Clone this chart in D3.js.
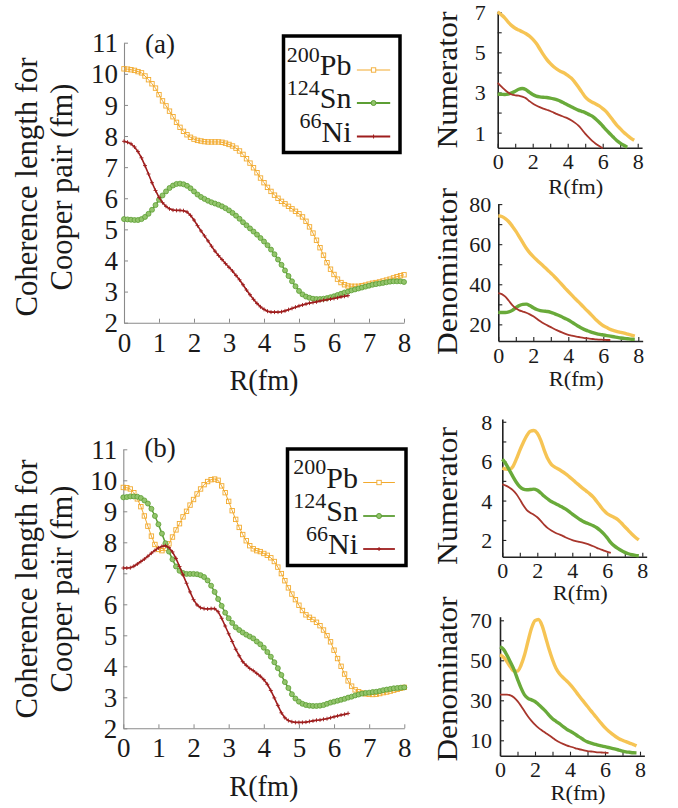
<!DOCTYPE html>
<html><head><meta charset="utf-8">
<script src="https://cdn.jsdelivr.net/npm/d3@7"></script>
<style>body{margin:0;background:#fff}svg{display:block}
text{font-family:"Liberation Serif","Times New Roman",Times,"Nimbus Roman","Nimbus Roman No9 L",serif !important;fill:#1a1a1a}</style>
</head><body>
<script>
// ---------- DATA ----------
const nuclei = ["200Pb", "124Sn", "66Ni"];
const stepMain = 0.1;   // R spacing of main panels (fm)
const stepSmall = 0.2;  // R spacing of side panels (fm)

// (a) coherence length
const pbA = [10.16,10.15,10.13,10.11,10.07,10.03,9.93,9.81,9.68,9.54,9.33,9.13,8.97,8.80,8.62,8.44,8.28,8.15,8.04,7.96,7.90,7.86,7.84,7.82,7.81,7.81,7.81,7.81,7.80,7.77,7.73,7.68,7.61,7.52,7.41,7.27,7.13,6.98,6.82,6.65,6.50,6.35,6.22,6.10,6.00,5.90,5.82,5.74,5.66,5.58,5.50,5.40,5.26,5.08,4.88,4.65,4.41,4.17,3.93,3.72,3.55,3.40,3.29,3.22,3.18,3.17,3.17,3.17,3.19,3.21,3.24,3.27,3.29,3.31,3.34,3.37,3.40,3.44,3.48,3.51,3.54];
const snA = [5.33,5.32,5.31,5.30,5.30,5.33,5.40,5.50,5.63,5.78,5.95,6.09,6.22,6.33,6.41,6.46,6.47,6.45,6.40,6.32,6.22,6.12,6.04,5.98,5.92,5.87,5.83,5.79,5.74,5.68,5.61,5.53,5.44,5.34,5.23,5.13,5.03,4.93,4.83,4.72,4.61,4.49,4.35,4.20,4.03,3.86,3.68,3.50,3.33,3.17,3.02,2.91,2.84,2.80,2.77,2.76,2.76,2.77,2.79,2.82,2.85,2.89,2.93,2.97,3.00,3.04,3.07,3.10,3.13,3.16,3.19,3.22,3.24,3.26,3.28,3.30,3.32,3.33,3.33,3.33,3.31];
const niA = [7.83,7.80,7.75,7.65,7.50,7.30,7.05,6.78,6.50,6.25,6.03,5.86,5.74,5.66,5.62,5.61,5.61,5.60,5.56,5.45,5.30,5.12,4.95,4.79,4.63,4.46,4.30,4.16,4.03,3.90,3.78,3.66,3.52,3.38,3.22,3.05,2.90,2.75,2.62,2.51,2.43,2.37,2.34,2.34,2.34,2.35,2.38,2.42,2.46,2.50,2.54,2.57,2.60,2.63,2.65,2.67,2.70,2.72,2.74,2.76,2.78,2.80,2.83,2.85,2.87];

// (b) coherence length
const pbB = [9.77,9.76,9.72,9.60,9.40,9.15,8.85,8.52,8.20,7.93,7.77,7.73,7.80,7.95,8.17,8.40,8.60,8.82,9.00,9.20,9.38,9.56,9.72,9.86,9.96,10.02,10.04,10.00,9.82,9.60,9.32,9.02,8.74,8.48,8.25,8.05,7.89,7.79,7.73,7.70,7.64,7.58,7.50,7.38,7.20,6.99,6.76,6.53,6.33,6.15,5.97,5.80,5.66,5.58,5.51,5.42,5.31,5.17,4.99,4.79,4.52,4.25,4.00,3.75,3.53,3.36,3.24,3.18,3.14,3.11,3.10,3.09,3.10,3.12,3.15,3.17,3.20,3.23,3.26,3.29,3.32];
const snB = [9.45,9.46,9.48,9.48,9.47,9.43,9.35,9.25,9.08,8.85,8.58,8.28,7.97,7.70,7.45,7.22,7.08,7.01,6.98,6.98,6.98,6.97,6.94,6.88,6.77,6.60,6.40,6.17,5.95,5.73,5.55,5.40,5.26,5.17,5.09,5.02,4.96,4.90,4.80,4.71,4.60,4.46,4.31,4.13,3.94,3.72,3.49,3.30,3.10,2.96,2.86,2.79,2.75,2.73,2.72,2.72,2.73,2.75,2.79,2.83,2.86,2.89,2.92,2.95,2.99,3.02,3.06,3.09,3.12,3.14,3.15,3.17,3.18,3.20,3.23,3.25,3.27,3.29,3.30,3.31,3.32];
const niB = [7.17,7.17,7.18,7.23,7.30,7.38,7.46,7.55,7.65,7.74,7.82,7.87,7.89,7.83,7.69,7.48,7.22,6.95,6.68,6.40,6.15,5.98,5.89,5.86,5.85,5.86,5.86,5.76,5.55,5.30,5.05,4.80,4.55,4.34,4.15,4.03,3.93,3.86,3.77,3.68,3.57,3.42,3.22,2.98,2.74,2.50,2.34,2.25,2.21,2.19,2.19,2.19,2.20,2.22,2.24,2.26,2.27,2.29,2.31,2.34,2.37,2.40,2.43,2.45,2.48];

// side panels (a)
const numA_pb = [7.02,6.88,6.72,6.50,6.33,6.20,6.11,6.03,5.94,5.82,5.66,5.45,5.18,4.90,4.65,4.45,4.28,4.15,4.05,3.97,3.85,3.72,3.52,3.29,3.03,2.78,2.62,2.52,2.43,2.33,2.20,2.05,1.83,1.60,1.38,1.20,1.02,0.87,0.73,0.62];
const numA_sn = [2.92,2.91,2.90,2.92,2.98,3.06,3.16,3.20,3.15,3.02,2.90,2.82,2.78,2.76,2.75,2.72,2.68,2.63,2.56,2.47,2.38,2.29,2.20,2.12,2.06,2.00,1.91,1.82,1.68,1.52,1.33,1.14,0.96,0.78,0.61,0.48,0.37,0.27];
const numA_ni = [3.48,3.30,3.14,3.00,2.90,2.86,2.84,2.79,2.72,2.58,2.45,2.35,2.27,2.20,2.14,2.08,2.00,1.92,1.85,1.78,1.71,1.62,1.50,1.36,1.17,0.95,0.76,0.59,0.45,0.33,0.22];
const denA_pb = [74.2,73.8,72.8,71.2,69.0,66.5,63.7,60.8,58.0,55.7,53.8,52.1,50.5,48.9,47.3,45.6,43.9,42.1,40.2,38.2,36.4,34.6,32.8,31.1,29.3,27.5,25.8,24.0,22.2,20.6,19.3,18.4,17.5,16.9,16.4,16.0,15.6,15.1,14.6,14.1];
const denA_sn = [26.0,25.9,25.9,26.2,27.0,28.3,29.4,30.0,30.1,29.4,28.3,27.4,26.9,26.6,26.4,26.0,25.4,24.7,23.9,23.0,22.2,21.1,20.0,18.9,17.9,17.1,16.5,15.9,15.4,15.0,14.7,14.4,14.1,13.8,13.5,13.2,13.0,12.8,12.6,12.5];
const denA_ni = [35.6,35.1,33.8,31.8,29.6,28.0,27.0,26.4,25.8,25.0,24.0,22.8,21.5,20.4,19.5,18.6,17.7,16.9,16.1,15.4,14.8,14.4,14.0,13.7,13.4,13.1,12.9,12.7,12.5,12.4,12.3,12.2,12.2];

// side panels (b)
const numB_pb = [5.65,5.60,5.58,5.72,6.10,6.55,6.95,7.30,7.52,7.56,7.42,7.06,6.55,6.12,5.84,5.70,5.60,5.49,5.37,5.23,5.08,4.92,4.77,4.62,4.48,4.34,4.17,3.95,3.72,3.50,3.33,3.23,3.14,3.03,2.86,2.67,2.49,2.30,2.14,2.00];
const numB_sn = [6.10,5.87,5.55,5.23,4.93,4.70,4.58,4.55,4.56,4.58,4.52,4.38,4.22,4.08,3.95,3.86,3.77,3.68,3.58,3.45,3.31,3.18,3.06,2.95,2.87,2.80,2.72,2.62,2.48,2.31,2.10,1.87,1.70,1.57,1.46,1.37,1.30,1.25,1.22,1.20];
const numB_ni = [4.82,4.76,4.66,4.53,4.33,4.06,3.76,3.52,3.38,3.28,3.15,2.97,2.76,2.60,2.48,2.38,2.30,2.23,2.14,2.06,1.99,1.94,1.90,1.86,1.81,1.75,1.68,1.60,1.53,1.46,1.40,1.34];
const denB_pb = [52.8,51.5,49.3,46.6,44.6,44.6,47.5,52.6,59.5,66.0,69.8,70.4,67.5,61.7,55.6,50.3,46.0,43.3,41.4,39.8,38.0,35.9,33.6,31.3,29.1,26.9,24.7,22.6,20.4,18.3,16.3,14.6,13.2,11.9,10.8,10.0,9.3,8.6,8.0,7.2];
const denB_sn = [56.7,55.5,52.5,49.0,45.3,40.6,36.2,32.7,31.0,30.2,29.4,27.9,26.3,24.6,22.6,20.8,19.5,18.3,16.9,15.6,14.6,13.6,12.4,11.3,10.1,9.2,8.6,8.1,7.6,7.2,6.8,6.4,6.0,5.6,5.1,4.6,4.2,4.0,3.8,3.7];
const denB_ni = [32.8,32.8,32.8,32.5,31.4,29.6,27.2,24.5,21.9,19.7,17.8,16.2,14.9,13.7,12.5,11.3,10.0,9.0,8.2,7.5,6.9,6.4,5.8,5.4,5.0,4.6,4.4,4.2,4.0,3.9,3.8,3.7];

const mainXTicks = [0,1,2,3,4,5,6,7,8];
const mainYTicks = [2,3,4,5,6,7,8,9,10,11];

// ---------- STYLE ----------
const C = {
  pb: "#f2aa2e", sn: "#5c9e34", snFill: "#93c46c", ni: "#9e1d1d",
  pbS: "#f6c454", snS: "#69aa3a", niS: "#a8362c"
};

const svg = d3.select("body").append("svg").attr("width", 678).attr("height", 808);
svg.append("rect").attr("width", 678).attr("height", 808).attr("fill", "#fff");

function split(label){ const m = label.match(/^(\d+)(.*)$/); return [m[1], m[2]]; }

function mainPanel(o) {
  const g = svg.append("g");
  const x = d3.scaleLinear().domain([0, 8]).range([o.x0, o.x1]);
  const y = d3.scaleLinear().domain([2, 11]).range([o.yb, o.yt]);
  const ax = g.append("g").attr("transform", `translate(0,${o.yb})`)
    .call(d3.axisBottom(x).tickValues(mainXTicks).tickSize(-4).tickSizeOuter(0).tickPadding(10));
  const ay = g.append("g").attr("transform", `translate(${o.x0},0)`)
    .call(d3.axisLeft(y).tickValues(mainYTicks).tickSize(-4).tickSizeOuter(0).tickPadding(6));
  [ax, ay].forEach(a => {
    a.attr("font-family", null);
    a.select(".domain").attr("stroke", "#8a8a8a").attr("stroke-width", 1.1);
    a.selectAll(".tick line").attr("stroke", "#8a8a8a");
    a.selectAll(".tick text").attr("font-size", 27).attr("fill", "#1a1a1a");
  });
  ay.selectAll(".tick text").attr("dy", "0.34em");

  const line = d3.line().x((d, i) => x(i * stepMain)).y(d => y(d));
  // Pb
  g.append("path").datum(o.pb).attr("d", line).attr("fill", "none").attr("stroke", C.pb).attr("stroke-width", 1);
  g.selectAll(null).data(o.pb).enter().append("rect")
    .attr("x", (d, i) => x(i * stepMain) - 2.2).attr("y", d => y(d) - 2.2)
    .attr("width", 4.4).attr("height", 4.4).attr("fill", "none").attr("stroke", C.pb).attr("stroke-width", 0.9);
  // Sn
  g.append("path").datum(o.sn).attr("d", line).attr("fill", "none").attr("stroke", C.sn).attr("stroke-width", 1.5);
  g.selectAll(null).data(o.sn).enter().append("circle")
    .attr("cx", (d, i) => x(i * stepMain)).attr("cy", d => y(d)).attr("r", 2.5)
    .attr("fill", C.snFill).attr("stroke", C.sn).attr("stroke-width", 0.8);
  // Ni
  g.append("path").datum(o.ni).attr("d", line).attr("fill", "none").attr("stroke", C.ni).attr("stroke-width", 1.6);
  g.selectAll(null).data(o.ni).enter().append("path")
    .attr("d", (d, i) => { const cx = x(i * stepMain), cy = y(d); return `M${cx-2},${cy}H${cx+2}M${cx},${cy-2}V${cy+2}`; })
    .attr("stroke", C.ni).attr("stroke-width", 0.9);

  // panel tag
  g.append("text").attr("x", o.x0 + 21).attr("y", o.tagY).attr("font-size", 27).text(o.tag);

  // axis labels
  g.append("text").attr("x", (o.x0 + o.x1) / 2).attr("y", o.xLabY).attr("text-anchor", "middle")
    .attr("font-size", 30).attr("textLength", 69).attr("lengthAdjust", "spacingAndGlyphs").text("R(fm)");
  g.append("text").attr("transform", `translate(36.5,${o.yLabC}) rotate(-90)`).attr("text-anchor", "middle")
    .attr("font-size", 31).attr("textLength", 259).attr("lengthAdjust", "spacingAndGlyphs").text("Coherence length for");
  g.append("text").attr("transform", `translate(71.5,${o.yLabC}) rotate(-90)`).attr("text-anchor", "middle")
    .attr("font-size", 31).attr("textLength", 207).attr("lengthAdjust", "spacingAndGlyphs").text("Cooper pair (fm)");

  // legend
  const L = o.leg;
  g.append("rect").attr("x", L.x).attr("y", L.y).attr("width", L.w).attr("height", L.h)
    .attr("fill", "#fff").attr("stroke", "#000").attr("stroke-width", 3.5);
  [0, 1, 2].forEach(k => {
    const [mass, el] = split(nuclei[k]);
    const by = L.y + L.base[k];
    const t = g.append("text").attr("x", L.x + L.tx).attr("y", by).attr("text-anchor", "end");
    t.append("tspan").attr("font-size", 22).attr("dy", -13.5).text(mass);
    t.append("tspan").attr("font-size", 30).attr("dy", 13.5).text(el);
    const ly = by - 5, lx0 = L.x + L.l0, lx1 = L.x + L.l1, mx = (lx0 + lx1) / 2;
    const col = [C.pb, C.sn, C.ni][k];
    g.append("line").attr("x1", lx0).attr("x2", lx1).attr("y1", ly).attr("y2", ly)
      .attr("stroke", col).attr("stroke-width", k === 0 ? 1 : 1.8);
    if (k === 0) g.append("rect").attr("x", mx - 2.2).attr("y", ly - 2.2).attr("width", 4.4).attr("height", 4.4)
      .attr("fill", "#fff").attr("stroke", col).attr("stroke-width", 0.9);
    if (k === 1) g.append("circle").attr("cx", mx).attr("cy", ly).attr("r", 2.5).attr("fill", C.snFill).attr("stroke", col);
    if (k === 2) g.append("path").attr("d", `M${mx-2},${ly}H${mx+2}M${mx},${ly-2}V${ly+2}`).attr("stroke", col);
  });
}

function sidePanel(o) {
  const g = svg.append("g");
  const x = d3.scaleLinear().domain([0, 8.25]).range([o.x0, o.x0 + 8.25 * 17.5]);
  const y = d3.scaleLinear().domain(o.yDom).range([o.yb, o.yt]);
  const ax = g.append("g").attr("transform", `translate(0,${o.yb})`)
    .call(d3.axisBottom(x).tickValues([0,1,2,3,4,5,6,7,8]).tickSize(-4).tickSizeOuter(0).tickPadding(6)
      .tickFormat(d => (d % 2 === 0 ? d : "")));
  const ay = g.append("g").attr("transform", `translate(${o.x0},0)`)
    .call(d3.axisLeft(y).tickValues(o.yTicks).tickSize(-4).tickSizeOuter(0).tickPadding(o.yPad)
      .tickFormat(d => (o.yLabels.includes(d) ? d : "")));
  [ax, ay].forEach(a => {
    a.attr("font-family", null);
    a.select(".domain").attr("stroke", "#222").attr("stroke-width", 1.6);
    a.selectAll(".tick line").attr("stroke", "#222").attr("stroke-width", 1.1);
    a.selectAll(".tick text").attr("font-size", 22).attr("fill", "#1a1a1a");
  });
  ay.selectAll(".tick text").attr("dy", "0.34em");
  const line = d3.line().curve(d3.curveMonotoneX).x((d, i) => x(i * stepSmall)).y(d => y(d));
  g.append("path").datum(o.pb).attr("d", line).attr("fill", "none").attr("stroke", C.pbS).attr("stroke-width", 3.4);
  g.append("path").datum(o.sn).attr("d", line).attr("fill", "none").attr("stroke", C.snS).attr("stroke-width", 3.4);
  g.append("path").datum(o.ni).attr("d", line).attr("fill", "none").attr("stroke", C.niS).attr("stroke-width", 1.8);
  g.append("text").attr("x", o.x0 + 78).attr("y", o.xLabY).attr("text-anchor", "middle").attr("font-size", 21)
    .attr("textLength", 55).attr("lengthAdjust", "spacingAndGlyphs").text("R(fm)");
  g.append("text").attr("transform", `translate(456.5,${o.yLabC}) rotate(-90)`).attr("text-anchor", "middle")
    .attr("font-size", 30).attr("textLength", o.yLabLen).attr("lengthAdjust", "spacingAndGlyphs").text(o.yLab);
}

mainPanel({x0: 124, x1: 404, yb: 322.7, yt: 42.7, pb: pbA, sn: snA, ni: niA, tag: "(a)", tagY: 53,
  xLabY: 390, yLabC: 187,
  leg: {x: 283.5, y: 36, w: 116.5, h: 116.5, base: [39, 72, 105.5], tx: 68, l0: 73.4, l1: 106.7}});
mainPanel({x0: 123.3, x1: 404.3, yb: 728.3, yt: 449.3, pb: pbB, sn: snB, ni: niB, tag: "(b)", tagY: 457,
  xLabY: 796, yLabC: 589,
  leg: {x: 287.5, y: 449, w: 118.5, h: 116.5, base: [38.5, 72, 105], tx: 70.5, l0: 75.7, l1: 107.4}});

sidePanel({x0: 497.7, yb: 147.7, yt: 11.2, yDom: [0.25, 7.05], yTicks: [1,2,3,4,5,6,7], yLabels: [1,3,5,7], yPad: 12,
  pb: numA_pb, sn: numA_sn, ni: numA_ni, xLabY: 194, yLab: "Numerator", yLabC: 80, yLabLen: 137});
sidePanel({x0: 498.3, yb: 341, yt: 203.7, yDom: [11.7, 80.2], yTicks: [20,30,40,50,60,70,80], yLabels: [20,40,60,80], yPad: 7,
  pb: denA_pb, sn: denA_sn, ni: denA_ni, xLabY: 386, yLab: "Denominator", yLabC: 271.5, yLabLen: 167});
sidePanel({x0: 502.3, yb: 556.7, yt: 419, yDom: [1.15, 8.14], yTicks: [2,3,4,5,6,7,8], yLabels: [2,4,6,8], yPad: 10,
  pb: numB_pb, sn: numB_sn, ni: numB_ni, xLabY: 600, yLab: "Numerator", yLabC: 496, yLabLen: 138});
sidePanel({x0: 500, yb: 755.7, yt: 616.7, yDom: [2.3, 71.8], yTicks: [10,20,30,40,50,60,70], yLabels: [10,30,50,70], yPad: 8,
  pb: denB_pb, sn: denB_sn, ni: denB_ni, xLabY: 800, yLab: "Denominator", yLabC: 679, yLabLen: 165});
</script>
</body></html>
